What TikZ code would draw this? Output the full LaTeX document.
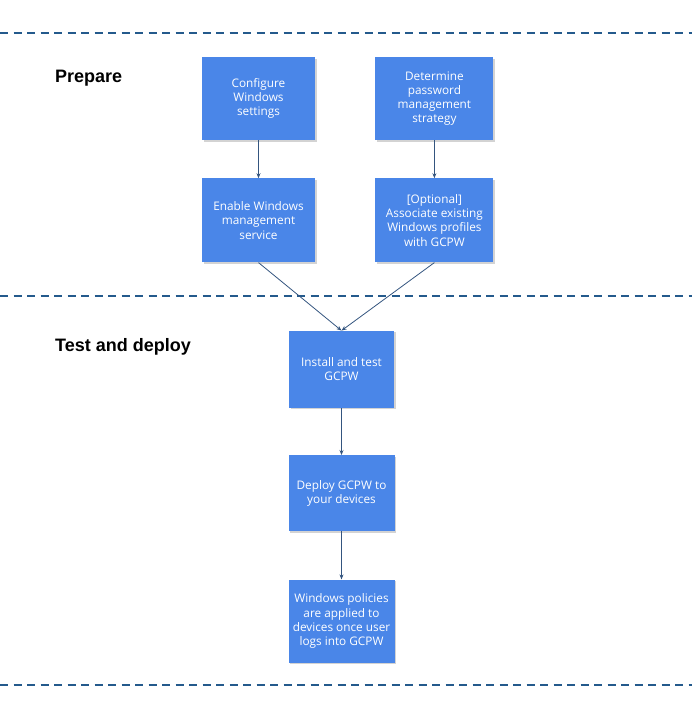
\documentclass[tikz,border=0pt]{standalone}
\usepackage{xcolor}
\usepackage{fontspec}
\usepackage{tikz}
\usetikzlibrary{shapes, arrows.meta, positioning, shadows}
\newfontfamily\boxfont{Open Sans}
\newfontfamily\headfont{Liberation Sans}
\definecolor{stepblue}{HTML}{4A86E8}
\definecolor{arrowblue}{HTML}{34557F}
\definecolor{sepblue}{HTML}{245A8C}
\tikzset{
    base/.style={font=\boxfont\fontsize{11.8}{14.2}\selectfont, text=white, align=center, inner sep=4pt},
    block/.style={base, rectangle, fill=stepblue, minimum width=113pt, minimum height=83pt,
        drop shadow={shadow xshift=1.5pt, shadow yshift=-1.5pt, fill=black!50, opacity=0.35}},
    phase/.style={font=\headfont\bfseries\fontsize{18}{21}\selectfont, anchor=west, inner sep=0pt},
    line/.style={draw=arrowblue, line width=0.8pt, -{Stealth[length=5pt, width=4pt]}},
    separator/.style={draw=sepblue, line width=2pt, dash pattern=on 8pt off 5.5pt}
}

\begin{document}
\begin{tikzpicture}[x=1pt, y=-1pt, node distance=38pt]
    \useasboundingbox (0,0) rectangle (692,718);

    % phases
    \draw [separator] (0,33) -- (692,33);
    \draw [separator] (0,296) -- (692,296);
    \draw [separator] (0,685) -- (692,685);
    \node [phase] (Prepare) at (55,78) {Prepare};
    \node [phase] (TestDeploy) at (55,347) {Test and deploy};

    % prepare steps
    \node [block] (Configure) at (258.5,98.5) {Configure\\Windows\\settings};
    \node [block, right=60pt of Configure, minimum width=118pt] (Password) {Determine\\password\\management\\strategy};
    \node [block, below=of Configure, minimum height=84pt] (Enable) {Enable Windows\\management\\service};
    \node [block, below=of Password, minimum width=118pt, minimum height=84pt] (Associate) {[Optional]\\Associate existing\\Windows profiles\\with GCPW};

    % test and deploy steps
    \node [block, below=68pt of Enable, xshift=83pt, minimum width=105pt, minimum height=77pt] (Install) {Install and test\\GCPW};
    \node [block, below=47pt of Install, minimum width=106pt, minimum height=76pt] (Deploy) {Deploy GCPW to\\your devices};
    \node [block, below=48pt of Deploy, minimum width=106pt, minimum height=83pt] (Policies) {Windows policies\\are applied to\\devices once user\\logs into GCPW};

    \draw [line] (Configure) -- (Enable);
    \draw [line] (Password) -- (Associate);
    \draw [line] (Enable.south) -- (Install.north);
    \draw [line] (Associate.south) -- (Install.north);
    \draw [line] (Install) -- (Deploy);
    \draw [line] (Deploy) -- (Policies);
\end{tikzpicture}
\end{document}
